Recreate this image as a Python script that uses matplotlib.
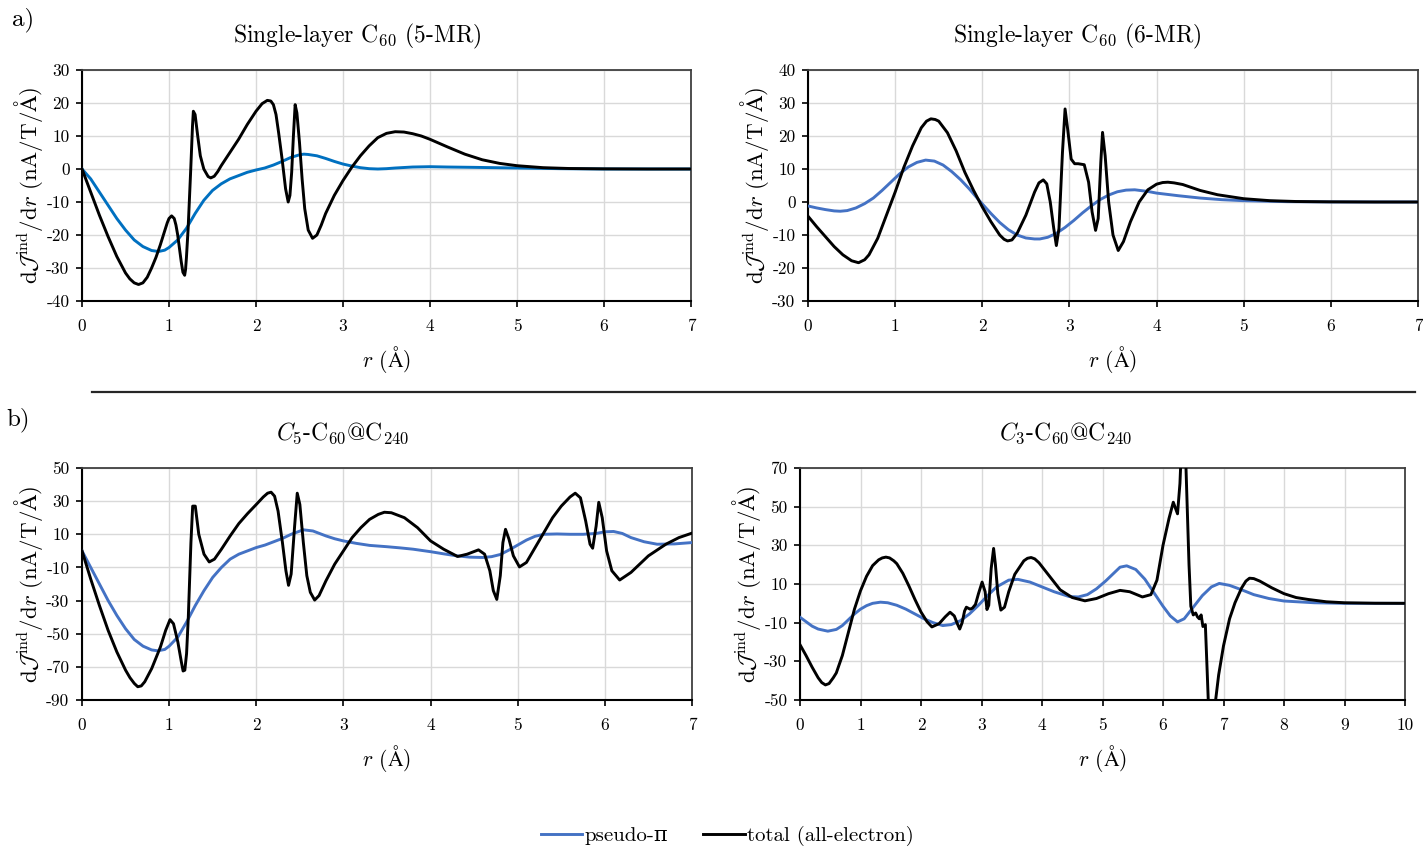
import numpy as np
import matplotlib
matplotlib.use("Agg")
import matplotlib.pyplot as plt
from matplotlib.lines import Line2D

plt.rcParams['font.family'] = ['cmr10', 'DejaVu Serif']
plt.rcParams['mathtext.fontset'] = 'cm'
plt.rcParams['axes.unicode_minus'] = False
plt.rcParams['axes.formatter.use_mathtext'] = False

# ---- data ----
# a) single-layer C60, 5-MR
r_5mr_tot = [0, 0.1, 0.2, 0.3, 0.4, 0.5, 0.55, 0.6, 0.65, 0.7, 0.75, 0.8, 0.85, 0.9, 0.95, 0.98,
             1.0, 1.03, 1.06, 1.08, 1.1, 1.12, 1.14, 1.16, 1.18, 1.19, 1.2, 1.22, 1.25, 1.27,
             1.28, 1.3, 1.33, 1.36, 1.4, 1.45, 1.48, 1.52, 1.56, 1.6, 1.7, 1.8,
             1.9, 2.0, 2.07, 2.13, 2.17, 2.2, 2.23, 2.26, 2.3, 2.34, 2.37, 2.39, 2.41, 2.43,
             2.45, 2.47, 2.5, 2.53, 2.56, 2.6, 2.65, 2.7, 2.75, 2.8, 2.9, 3.0, 3.1, 3.2,
             3.3, 3.4, 3.5, 3.6, 3.7, 3.8, 3.9, 4.0, 4.2, 4.4, 4.6, 4.8, 5.0, 5.3, 5.6, 6.0,
             6.5, 7.0]
v_5mr_tot = [0, -7, -14, -20.5, -26.5, -31.5, -33.3, -34.5, -35, -34.5, -32.8, -30, -26.8, -23, -18.8, -16.3,
             -15, -14.2, -15, -17, -20, -24, -28, -31.3, -32.2, -30.5, -27, -18, 0, 13,
             17.5, 16.5, 10, 4, 0, -2.3, -2.7, -2.2, -0.8, 1, 5, 9,
             13.5, 17.5, 19.8, 20.8, 20.6, 19.5, 16.5, 11, 3, -6, -10, -8, -1, 10,
             19.5, 17, 8, -3, -12, -18.5, -21, -20, -17, -13.5, -8, -3.5, 0.5, 4,
             7, 9.5, 10.8, 11.3, 11.2, 10.7, 10, 9, 6.7, 4.5, 2.8, 1.7, 1.0, 0.4, 0.15, 0.05,
             0, 0]
r_5mr_pi = [0, 0.1, 0.2, 0.3, 0.4, 0.5, 0.6, 0.7, 0.8, 0.88, 0.95, 1.0, 1.1, 1.2, 1.3, 1.4, 1.5,
            1.6, 1.7, 1.8, 1.9, 2.0, 2.1, 2.2, 2.3, 2.4, 2.5, 2.55, 2.6, 2.7, 2.8, 2.9, 3.0,
            3.1, 3.2, 3.3, 3.4, 3.5, 3.6, 3.8, 4.0, 4.2, 4.5, 5.0, 5.5, 6.0, 7.0]
v_5mr_pi = [0, -3, -7, -11, -15, -18.5, -21.5, -23.5, -24.7, -25, -24.6, -23.8, -21.5, -18, -13.5,
            -9.5, -6.5, -4.5, -3, -2, -1, -0.3, 0.3, 1.2, 2.3, 3.5, 4.3, 4.5, 4.4, 4, 3.2, 2.3,
            1.5, 0.9, 0.4, 0.1, 0, 0.1, 0.3, 0.6, 0.7, 0.6, 0.5, 0.3, 0.1, 0, 0]

# a) single-layer C60, 6-MR
r_6mr_tot = [0, 0.1, 0.2, 0.3, 0.4, 0.5, 0.58, 0.65, 0.7, 0.8, 0.9, 1.0, 1.1, 1.2, 1.3, 1.36,
             1.41, 1.46, 1.5, 1.6, 1.7, 1.8, 1.9, 2.0, 2.1, 2.2, 2.25, 2.29, 2.34, 2.4, 2.5,
             2.6, 2.65, 2.7, 2.74, 2.78, 2.82, 2.85, 2.88, 2.92, 2.95, 2.98, 3.02, 3.06, 3.1,
             3.17, 3.22, 3.26, 3.3, 3.33, 3.36, 3.38, 3.41, 3.45, 3.5, 3.56, 3.62, 3.7, 3.8,
             3.9, 4.0, 4.07, 4.13, 4.2, 4.3, 4.5, 4.7, 5.0, 5.3, 5.6, 6.0, 6.5, 7.0]
v_6mr_tot = [-4.3, -7.5, -10.5, -13.5, -16, -17.8, -18.4, -17.5, -16, -11, -4, 3, 10.5, 17, 22.5, 24.5,
             25.2, 25, 24.5, 21, 15.5, 9, 3.5, -1.5, -6, -10, -11.3, -11.8, -11.5, -9.5, -4,
             3, 5.8, 6.7, 5.5, 0, -8, -13.2, -8, 15, 28.2, 22, 13, 11.6, 11.6,
             11.3, 6, -3, -8.6, -5, 12, 21.1, 14, 0, -10, -14.7, -12, -6, 0,
             3.7, 5.4, 5.9, 6, 5.8, 5.3, 3.5, 2.2, 1.0, 0.4, 0.15, 0.05, 0, 0]
r_6mr_pi = [0, 0.1, 0.2, 0.3, 0.37, 0.45, 0.55, 0.65, 0.75, 0.85, 0.95, 1.05, 1.15, 1.25, 1.35,
            1.45, 1.55, 1.65, 1.75, 1.85, 1.97, 2.1, 2.2, 2.3, 2.4, 2.5, 2.6, 2.66, 2.75, 2.85,
            2.95, 3.05, 3.15, 3.25, 3.35, 3.45, 3.55, 3.65, 3.75, 3.9, 4.0, 4.25, 4.5, 4.75,
            5.0, 5.5, 6.0, 7.0]
v_6mr_pi = [-1.2, -1.8, -2.3, -2.7, -2.8, -2.6, -1.8, -0.5, 1.2, 3.5, 6, 8.5, 10.6, 12, 12.7,
            12.4, 11.2, 9.2, 6.8, 4, 0.3, -3.5, -6.2, -8.4, -10, -10.9, -11.2, -11.2, -10.7, -9.5,
            -7.7, -5.6, -3.3, -1.2, 0.7, 2.1, 3.1, 3.6, 3.7, 3.2, 2.7, 1.9, 1.2, 0.7,
            0.4, 0.1, 0.02, 0]

# b) C5-C60@C240
r_c5_tot = [0, 0.1, 0.2, 0.3, 0.4, 0.5, 0.55, 0.6, 0.64, 0.68, 0.72, 0.8, 0.9, 0.96, 1.01, 1.05,
            1.1, 1.14, 1.16, 1.18, 1.2, 1.22, 1.25, 1.27, 1.3, 1.34, 1.4, 1.46, 1.52, 1.6, 1.7,
            1.8, 1.9, 2.0, 2.08, 2.13, 2.17, 2.21, 2.25, 2.3, 2.34, 2.37, 2.4, 2.44, 2.47, 2.5,
            2.54, 2.58, 2.62, 2.67, 2.72, 2.8, 2.9, 3.0, 3.1, 3.2, 3.3, 3.4, 3.47, 3.55, 3.7,
            3.85, 4.0, 4.15, 4.31, 4.42, 4.55, 4.62, 4.68, 4.72, 4.76, 4.8, 4.83, 4.86, 4.9,
            4.95, 5.02, 5.1, 5.2, 5.3, 5.4, 5.5, 5.6, 5.66, 5.72, 5.78, 5.83, 5.86, 5.9, 5.93,
            5.97, 6.02, 6.08, 6.17, 6.3, 6.5, 6.7, 6.85, 7.0]
v_c5_tot = [0, -17, -33, -48, -61, -72, -76.5, -80, -82, -81.5, -79, -71, -58, -48, -41.5, -44,
            -55, -67, -72.5, -72, -62, -40, 5, 27, 27, 10, -2, -6.7, -5, 1, 9,
            16.5, 22.5, 28, 32.5, 34.8, 35.4, 33, 24, 5, -12, -20.8, -14, 15, 34.8, 28,
            5, -15, -25, -29.7, -27, -18, -8, 0, 8, 14, 19, 22, 23.3, 23, 20,
            14, 6, 1, -3.4, -2, 0.6, -2, -12, -24, -29.3, -15, 5, 13, 7,
            -3, -9.7, -7, 2, 11, 20, 27, 32.5, 34.8, 32, 18, 4, 1.6, 15, 29.3,
            20, 0, -12, -17.6, -13, -3, 4, 8, 10.7]
r_c5_pi = [0, 0.1, 0.2, 0.3, 0.4, 0.5, 0.6, 0.7, 0.8, 0.87, 0.95, 1.0, 1.1, 1.2, 1.3, 1.4, 1.5,
           1.6, 1.7, 1.8, 1.9, 2.0, 2.1, 2.2, 2.3, 2.4, 2.54, 2.65, 2.8, 2.9, 3.0, 3.15, 3.3,
           3.5, 3.65, 3.8, 4.0, 4.15, 4.3, 4.45, 4.6, 4.7, 4.8, 4.9, 5.0, 5.1, 5.2, 5.3, 5.45,
           5.6, 5.75, 5.9, 6.0, 6.1, 6.2, 6.3, 6.45, 6.6, 6.8, 7.0]
v_c5_pi = [0, -10, -20, -30, -39, -47, -53.5, -57.5, -59.8, -60.3, -59.5, -57.5, -52, -43, -33,
           -24, -16, -10, -5, -2, 0, 2, 3.5, 5.5, 7.5, 10, 12.7, 12, 9, 7.3, 6, 4.5, 3.3,
           2.5, 1.8, 1, -0.5, -1.8, -3, -3.8, -4, -3.5, -2.2, 0.5, 3.5, 6.5, 8.8, 10, 10.2,
           10, 10, 10.5, 11.5, 11.7, 10.5, 8, 5.5, 4, 4.2, 5]

# b) C3-C60@C240
r_c3_tot = [0, 0.1, 0.2, 0.3, 0.36, 0.42, 0.48, 0.55, 0.6, 0.7, 0.8, 0.9, 1.0, 1.1, 1.2, 1.3,
            1.36, 1.42, 1.48, 1.55, 1.6, 1.7, 1.8, 1.9, 2.0, 2.1, 2.18, 2.3, 2.4, 2.48, 2.55,
            2.6, 2.64, 2.68, 2.72, 2.75, 2.78, 2.81, 2.85, 2.9, 2.95, 3.01, 3.06, 3.09, 3.12,
            3.16, 3.2, 3.23, 3.27, 3.32, 3.38, 3.45, 3.55, 3.7, 3.76, 3.82, 3.88, 3.95, 4.1,
            4.3, 4.5, 4.71, 4.9, 5.1, 5.29, 5.45, 5.66, 5.8, 5.9, 6.0, 6.1, 6.17, 6.24, 6.28,
            6.31, 6.34, 6.37, 6.4, 6.43, 6.46, 6.5, 6.54, 6.57, 6.6, 6.63, 6.66, 6.7, 6.73,
            6.76, 6.8, 6.84, 6.87, 6.92, 7.0, 7.1, 7.19, 7.3, 7.37, 7.43, 7.5, 7.6, 7.8, 8.0,
            8.2, 8.4, 8.7, 9.0, 9.5, 10.0]
v_c3_tot = [-21.4, -27, -33, -38.5, -41, -42.2, -41.5, -38.5, -36, -27, -15, -3, 6.5, 14, 19.5, 22.5,
            23.5, 23.9, 23.5, 22, 20.5, 15.5, 9, 2, -4.5, -9.5, -12.2, -10.5, -7, -4.6, -6.5,
            -10.5, -13.3, -10, -4, -2, -2.5, -3, -2.5, -0.6, 5, 11, 6, -3.2, -1,
            18, 28.4, 20, 5, -3.5, -2, 6, 15, 22, 23.3, 23.7, 23, 21, 15,
            7, 3, 1.3, 2.5, 5, 6.7, 6, 3.3, 4.5, 12, 30, 44, 52.3, 46.3, 62,
            85, 90, 80, 50, 20, -1.5, -6, -5, -7, -8, -6, -12, -11, -35,
            -60, -70, -60, -50, -37, -22, -8, 0.3, 8, 11.5, 13, 12.8, 11.5, 8, 5,
            3, 2, 0.8, 0.3, 0.05, 0]
r_c3_pi = [0, 0.1, 0.2, 0.3, 0.46, 0.6, 0.7, 0.8, 0.9, 1.0, 1.1, 1.2, 1.33, 1.45, 1.6, 1.75,
           1.9, 2.05, 2.2, 2.36, 2.5, 2.65, 2.8, 2.95, 3.1, 3.25, 3.45, 3.6, 3.8, 4.0, 4.2,
           4.45, 4.6, 4.75, 4.9, 5.05, 5.2, 5.29, 5.4, 5.55, 5.7, 5.85, 6.0, 6.12, 6.24,
           6.35, 6.5, 6.65, 6.8, 6.93, 7.1, 7.3, 7.5, 7.75, 8.0, 8.5, 9.0, 10.0]
v_c3_pi = [-7.2, -9.5, -11.8, -13.3, -14.4, -13.5, -11.5, -8.5, -5.5, -3, -1.2, 0, 0.6, 0.3, -1, -3,
           -5.5, -8, -10, -11.5, -11, -9, -5.5, -1, 4, 8.5, 12, 12.4, 11, 8.5, 6,
           3.5, 3.3, 4.5, 7.5, 11.5, 16, 18.7, 19.4, 17.5, 12.5, 5.5, -1.5, -6.5, -9.6,
           -8, -2, 4, 8.5, 10.3, 9.3, 7, 4.5, 2.5, 1.2, 0.3, 0, 0]

# panel texts and axis ranges
titles = ['Single-layer C$_{60}$ (5-MR)', 'Single-layer C$_{60}$ (6-MR)',
          '$C_5$-C$_{60}$@C$_{240}$', '$C_3$-C$_{60}$@C$_{240}$']
xmax = [7, 7, 7, 10]
yticks = [np.arange(-40, 31, 10), np.arange(-30, 41, 10),
          np.arange(-90, 51, 20), np.arange(-50, 71, 20)]
pi_colors = ['#0070C0', '#4472C4', '#4472C4', '#4472C4']

tot_r = [r_5mr_tot, r_6mr_tot, r_c5_tot, r_c3_tot]
tot_v = [v_5mr_tot, v_6mr_tot, v_c5_tot, v_c3_tot]
pi_r = [r_5mr_pi, r_6mr_pi, r_c5_pi, r_c3_pi]
pi_v = [v_5mr_pi, v_6mr_pi, v_c5_pi, v_c3_pi]

W, H = 1423, 848
fig = plt.figure(figsize=(W / 100, H / 100), dpi=100)

# axes boxes in pixels: left, top, right, bottom
boxes = [(82, 70, 691, 301), (808, 70, 1418, 301),
         (82, 468, 692, 700), (800, 468, 1405, 700)]
# title centres in pixels (titles sit left of the axes centre)
title_cx = [357, 1077, 343, 1066]

ylab = r'$\mathrm{d}\mathcal{J}^{\mathrm{ind}}/\mathrm{d}r\ (\mathrm{nA/T/\AA})$'

for i, (l, t, rr, b) in enumerate(boxes):
    ax = fig.add_axes([l / W, 1 - b / H, (rr - l) / W, (b - t) / H])
    ax.plot(pi_r[i], pi_v[i], color=pi_colors[i], lw=2.1, zorder=3)
    ax.plot(tot_r[i], tot_v[i], color='black', lw=2.1, zorder=4)
    ax.set_xlim(0, xmax[i])
    ax.set_ylim(yticks[i][0], yticks[i][-1])
    ax.set_xticks(np.arange(0, xmax[i] + 1, 1))
    ax.set_yticks(yticks[i])
    ax.set_yticklabels([str(v) for v in yticks[i]])
    ax.grid(True, color='#D9D9D9', lw=1.0, zorder=0)
    ax.tick_params(direction='out', length=4, width=1.2, labelsize=12.5)
    ax.tick_params(axis='x', pad=9)
    ax.tick_params(axis='y', pad=5)
    for s in ['left', 'bottom']:
        ax.spines[s].set_linewidth(1.5)
        ax.spines[s].set_color('black')
    for s in ['top', 'right']:
        ax.spines[s].set_linewidth(1.3)
        ax.spines[s].set_color('#404040')
    ax.set_title(titles[i], fontsize=17, pad=20, x=(title_cx[i] - l) / (rr - l))
    ax.set_xlabel(r'$r$ $(\mathrm{\AA})$', fontsize=15.5, labelpad=7)
    ax.set_ylabel(ylab, fontsize=16.5, labelpad=1)

fig.text(12 / W, 1 - 20 / H, 'a)', fontsize=18, va='center', ha='left')
fig.text(6 / W, 1 - 420 / H, 'b)', fontsize=18, va='center', ha='left')
fig.add_artist(Line2D([92 / W, 1415 / W], [1 - 392 / H, 1 - 392 / H],
                      color='#262626', lw=1.6))

handles = [Line2D([], [], color='#4472C4', lw=2.1), Line2D([], [], color='black', lw=2.1)]
fig.legend(handles, ['pseudo-π', 'total (all-electron)'], loc='center',
           bbox_to_anchor=(0.511, 1 - 836 / H), ncol=2, frameon=False, fontsize=15,
           handlelength=2.0, handletextpad=0.1, columnspacing=1.7)

fig.savefig('out.png', dpi=100)
